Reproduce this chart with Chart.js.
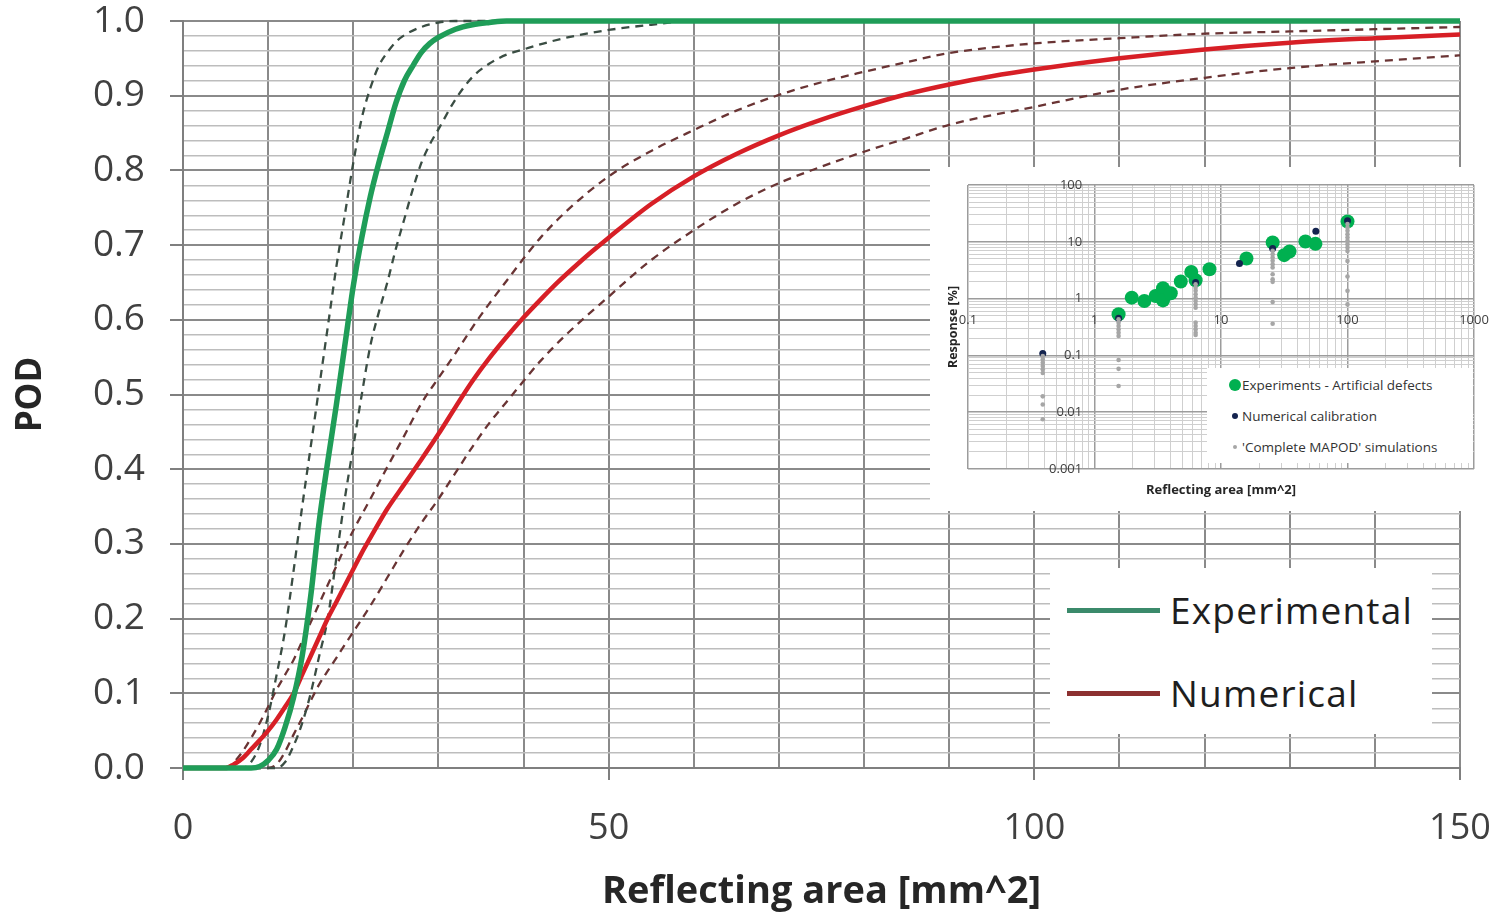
<!DOCTYPE html>
<html>
<head>
<meta charset="utf-8">
<script src="https://cdn.jsdelivr.net/npm/chart.js@4.4.1/dist/chart.umd.min.js"></script>
<style>
  html, body { margin: 0; padding: 0; background: #fff; }
  #wrap { position: relative; width: 1510px; height: 917px; overflow: hidden; }
  #main { position: absolute; left: 0; top: 0; }
  #inset { position: absolute; left: 930px; top: 167px; width: 580px; height: 344px; background: #fff; }
  #mainLegend { position: absolute; left: 1050px; top: 568px; width: 382px; height: 166px; background: #fff; }
  #mainLegend .swatch { position: absolute; left: 17px; width: 93px; height: 5px; }
  #mainLegend .label { position: absolute; left: 120px; font: 37px 'Open Sans'; letter-spacing: 1.2px; color: #1e1e1e; line-height: 40px; }
  #insetLegend { position: absolute; left: 277px; top: 201px; width: 266px; height: 95px; background: #fff; }
  #insetLegend .dot { position: absolute; border-radius: 50%; }
  #insetLegend .label { position: absolute; left: 35px; font: 13.5px 'Open Sans'; color: #333; line-height: 16px; }
</style>
</head>
<body>
<div id="wrap">
  <canvas id="main" width="1510" height="917"></canvas>
  <div id="mainLegend">
    <div class="swatch" style="top:40px;background:#3b8a6b"></div>
    <div class="label" style="top:22px">Experimental</div>
    <div class="swatch" style="top:123px;background:#8c3030"></div>
    <div class="label" style="top:105px">Numerical</div>
  </div>
  <div id="inset">
    <canvas id="insetChart" width="580" height="344"></canvas>
    <div id="insetLegend">
      <div class="dot" style="left:22px;top:11px;width:12px;height:12px;background:#00b050"></div>
      <div class="label" style="top:9px">Experiments - Artificial defects</div>
      <div class="dot" style="left:25px;top:45px;width:6px;height:6px;background:#14244f"></div>
      <div class="label" style="top:40px">Numerical calibration</div>
      <div class="dot" style="left:26px;top:77px;width:4px;height:4px;background:#a6a6a6"></div>
      <div class="label" style="top:71px">'Complete MAPOD' simulations</div>
    </div>
  </div>
</div>
<script>
// ---- main POD chart (x = reflecting area [mm^2]) ----
const expX = [0, 8, 9, 10, 11, 12, 13, 14, 15, 16, 17, 18, 19, 20, 21, 22, 23, 24, 25, 26, 27, 28, 29, 30, 32, 34, 36, 38, 150];
const expY = [0, 0, 0.002, 0.01, 0.025, 0.055, 0.095, 0.15, 0.23, 0.33, 0.41, 0.485, 0.565, 0.645, 0.71, 0.765, 0.81, 0.85, 0.89, 0.92, 0.94, 0.958, 0.97, 0.978, 0.989, 0.995, 0.998, 1, 1];

const expUpX = [0, 7, 8, 9, 10, 11, 12, 13, 14, 15, 16, 17, 18, 19, 20, 21, 22, 23, 24, 25, 26, 28, 30, 32, 150];
const expUpY = [0, 0, 0.008, 0.03, 0.07, 0.125, 0.185, 0.265, 0.35, 0.43, 0.51, 0.59, 0.67, 0.74, 0.81, 0.87, 0.91, 0.94, 0.958, 0.972, 0.981, 0.992, 0.998, 1, 1];

const expLoX = [0, 11, 12, 13, 14, 15, 16, 17, 18, 19, 20, 21, 22, 23, 24, 25, 26, 27, 28, 29, 30, 32, 34, 36, 38, 40, 43, 46, 50, 55, 60, 150];
const expLoY = [0, 0, 0.008, 0.03, 0.06, 0.1, 0.15, 0.2, 0.28, 0.36, 0.43, 0.5, 0.565, 0.61, 0.65, 0.695, 0.735, 0.775, 0.81, 0.835, 0.855, 0.895, 0.925, 0.943, 0.955, 0.962, 0.972, 0.98, 0.988, 0.995, 1, 1];

const numX = [0, 5, 6, 7, 8, 9, 10, 11, 12, 13, 14, 15, 16, 17, 18, 19, 20, 21, 22, 24, 26, 28, 30, 32, 34, 36, 38, 40, 42, 44, 46, 48, 50, 55, 60, 65, 70, 75, 80, 85, 90, 95, 100, 110, 120, 130, 140, 150];
const numY = [0, 0, 0.005, 0.013, 0.025, 0.037, 0.05, 0.065, 0.082, 0.1, 0.125, 0.15, 0.175, 0.2, 0.222, 0.244, 0.266, 0.288, 0.308, 0.347, 0.38, 0.413, 0.447, 0.483, 0.518, 0.549, 0.577, 0.603, 0.627, 0.65, 0.671, 0.691, 0.71, 0.755, 0.792, 0.822, 0.847, 0.868, 0.886, 0.902, 0.915, 0.926, 0.935, 0.95, 0.962, 0.971, 0.977, 0.982];

const numUpX = [0, 5, 6, 7, 8, 9, 10, 11, 12, 13, 14, 15, 16, 17, 18, 19, 20, 22, 24, 26, 28, 30, 32, 34, 36, 38, 40, 42, 45, 50, 55, 60, 65, 70, 75, 80, 85, 90, 100, 110, 120, 130, 140, 150];
const numUpY = [0, 0, 0.008, 0.022, 0.04, 0.06, 0.082, 0.105, 0.125, 0.145, 0.17, 0.195, 0.22, 0.245, 0.27, 0.295, 0.318, 0.36, 0.403, 0.445, 0.488, 0.522, 0.555, 0.59, 0.622, 0.652, 0.682, 0.71, 0.745, 0.792, 0.826, 0.854, 0.88, 0.901, 0.918, 0.932, 0.945, 0.957, 0.97, 0.977, 0.983, 0.986, 0.989, 0.992];

const numLoX = [0, 10, 11, 12, 13, 14, 15, 16, 17, 18, 19, 20, 22, 24, 26, 28, 30, 32, 34, 36, 38, 40, 42, 45, 50, 55, 60, 65, 70, 75, 80, 85, 90, 100, 110, 120, 130, 140, 150];
const numLoY = [0, 0, 0.005, 0.022, 0.045, 0.067, 0.09, 0.112, 0.13, 0.147, 0.165, 0.182, 0.217, 0.255, 0.293, 0.328, 0.36, 0.395, 0.43, 0.462, 0.49, 0.518, 0.545, 0.58, 0.631, 0.68, 0.72, 0.755, 0.783, 0.805, 0.825, 0.843, 0.861, 0.885, 0.908, 0.924, 0.937, 0.946, 0.954];

const xLabelled = [0, 50, 100, 150];

// ---- inset: response vs reflecting area (log-log) ----
const expArea = [1.55, 1.97, 2.48, 3.04, 3.48, 3.48, 4.01, 4.81, 5.82, 6.3, 8.11, 15.9, 25.6, 31.6, 34.8, 46.5, 55.8, 100];
const expResp = [0.53, 1.04, 0.91, 1.11, 1.52, 0.93, 1.24, 2.0, 2.95, 2.11, 3.29, 5.08, 9.73, 5.82, 6.75, 10.1, 9.2, 22.8];

const calArea = [0.39, 1.55, 6.3, 14.0, 25.6, 56.2, 100];
const calResp = [0.108, 0.45, 1.92, 4.15, 7.63, 15.4, 23.5];

const simArea = [0.39, 1.55, 6.3, 25.6, 100];
const simResp = [
  [0.097, 0.085, 0.074, 0.065, 0.057, 0.049, 0.019, 0.0137, 0.0075],
  [0.432, 0.377, 0.329, 0.287, 0.251, 0.219, 0.083, 0.058, 0.029],
  [1.79, 1.56, 1.37, 1.19, 1.04, 0.91, 0.79, 0.69, 0.377, 0.329, 0.287, 0.251, 0.228],
  [6.93, 6.05, 5.29, 4.62, 4.03, 3.52, 2.69, 2.19, 1.97, 0.87, 0.36],
  [20.5, 17.9, 15.6, 13.6, 11.9, 10.4, 9.1, 7.9, 6.9, 4.6, 2.45, 1.37, 0.79]
];

const insetXDecades = [0.1, 1, 10, 100, 1000];
const insetYDecades = [0.001, 0.01, 0.1, 1, 10, 100];

function zip(xs, ys) {
  return xs.map((x, i) => ({ x: x, y: ys[i] }));
}

function isMajorPod(v) {
  return Math.abs(v * 10 - Math.round(v * 10)) < 1e-6;
}

function logTicks(decades) {
  const out = [];
  decades.forEach((d, i) => {
    out.push({ value: d, major: true });
    if (i < decades.length - 1) {
      for (let k = 2; k <= 9; k++) out.push({ value: d * k, major: false });
    }
  });
  return out;
}

// the tick padding would otherwise push the plot area in from the edges
function noEdgePadding(s) {
  s.paddingTop = 0;
  s.paddingBottom = 0;
  s.paddingLeft = 0;
  s.paddingRight = 0;
}

Chart.defaults.font.family = "'Open Sans'";
Chart.defaults.animation = false;

const GREEN = '#1f9d58';
const RED = '#d71f26';
const GREEN_DASH = '#3a4d43';
const RED_DASH = '#6a3434';

function curve(label, xs, ys, color, width, dashed, order) {
  return {
    label: label,
    data: zip(xs, ys),
    borderColor: color,
    borderWidth: width,
    borderDash: dashed ? [8, 6] : [],
    pointRadius: 0,
    fill: false,
    cubicInterpolationMode: 'monotone',
    clip: 8,
    order: order
  };
}

new Chart(document.getElementById('main'), {
  type: 'line',
  data: {
    datasets: [
      curve('Experimental', expX, expY, GREEN, 5.5, false, 0),
      curve('Numerical', numX, numY, RED, 4.5, false, 1),
      curve('Experimental upper', expUpX, expUpY, GREEN_DASH, 2.3, true, 2),
      curve('Experimental lower', expLoX, expLoY, GREEN_DASH, 2.3, true, 2),
      curve('Numerical upper', numUpX, numUpY, RED_DASH, 2.3, true, 3),
      curve('Numerical lower', numLoX, numLoY, RED_DASH, 2.3, true, 3)
    ]
  },
  options: {
    responsive: false,
    events: [],
    layout: { padding: { top: 21, right: 50, bottom: 0, left: 0 } },
    plugins: { legend: { display: false }, tooltip: { enabled: false } },
    scales: {
      x: {
        type: 'linear',
        min: 0, max: 150,
        afterFit: s => { s.height = 149; noEdgePadding(s); },
        border: { color: '#7f7f7f', width: 2 },
        grid: {
          color: '#8a8a8a',
          lineWidth: 2,
          tickLength: 12,
          tickColor: c => (c.tick && xLabelled.includes(c.tick.value)) ? '#7f7f7f' : 'rgba(0,0,0,0)'
        },
        ticks: {
          stepSize: 10,
          autoSkip: false,
          maxRotation: 0,
          padding: 27,
          color: '#404040',
          font: { size: 36 },
          callback: v => xLabelled.includes(v) ? String(v) : ''
        },
        title: {
          display: true,
          text: 'Reflecting area [mm^2]',
          color: '#262626',
          font: { size: 38, weight: 'bold' },
          padding: { top: 0, bottom: 2 }
        }
      },
      y: {
        min: 0, max: 1,
        afterFit: s => { s.width = 183; noEdgePadding(s); },
        border: { color: '#7f7f7f', width: 2 },
        grid: {
          color: c => (c.tick && isMajorPod(c.tick.value)) ? '#8a8a8a' : '#bdbdbd',
          lineWidth: c => (c.tick && isMajorPod(c.tick.value)) ? 2 : 1.4,
          tickLength: 13,
          tickColor: c => (c.tick && isMajorPod(c.tick.value)) ? '#7f7f7f' : 'rgba(0,0,0,0)'
        },
        ticks: {
          stepSize: 0.02,
          autoSkip: false,
          padding: 25,
          color: '#404040',
          font: { size: 37 },
          callback: v => isMajorPod(v) ? v.toFixed(1) : ''
        },
        title: {
          display: true,
          text: 'POD',
          color: '#262626',
          font: { size: 35, weight: 'bold' },
          padding: { top: 10, bottom: 0 }
        }
      }
    }
  }
});

const simPoints = [];
simArea.forEach((a, i) => simResp[i].forEach(r => simPoints.push({ x: a, y: r })));

new Chart(document.getElementById('insetChart'), {
  type: 'scatter',
  data: {
    datasets: [
      { label: 'Experiments - Artificial defects', data: zip(expArea, expResp), backgroundColor: '#00b050', borderWidth: 0, pointRadius: 7, order: 3 },
      { label: 'Numerical calibration', data: zip(calArea, calResp), backgroundColor: '#14244f', borderWidth: 0, pointRadius: 3.5, order: 2 },
      { label: "'Complete MAPOD' simulations", data: simPoints, backgroundColor: '#a6a6a6', borderWidth: 0, pointRadius: 2.3, order: 1 }
    ]
  },
  options: {
    responsive: false,
    events: [],
    layout: { padding: { top: 18, right: 36, bottom: 0, left: 0 } },
    plugins: {
      legend: { display: false },
      tooltip: { enabled: false },
      title: {
        display: true,
        fullSize: false,
        position: 'bottom',
        text: 'Reflecting area [mm^2]',
        color: '#262626',
        font: { size: 13, weight: 'bold' },
        padding: { top: 13.2, bottom: 13.2 }
      },
      subtitle: {
        display: true,
        fullSize: false,
        position: 'left',
        text: 'Response [%]',
        color: '#262626',
        font: { size: 12.5, weight: 'bold' },
        padding: { top: 15.5, bottom: 7.5 }
      }
    },
    scales: {
      x: {
        type: 'logarithmic',
        min: 0.1, max: 1000,
        position: { y: 1 },
        afterBuildTicks: s => { s.ticks = logTicks(insetXDecades); },
        afterFit: noEdgePadding,
        border: { display: false },
        grid: {
          color: c => (c.tick && c.tick.major) ? '#9c9c9c' : '#cfcfcf',
          lineWidth: c => (c.tick && c.tick.major) ? 1.5 : 1,
          drawTicks: false
        },
        ticks: {
          autoSkip: false, maxRotation: 0, padding: 14,
          color: '#404040', font: { size: 13 },
          callback: (v, i, ticks) => ticks[i].major ? String(v) : ''
        }
      },
      y: {
        type: 'logarithmic',
        min: 0.001, max: 100,
        // labels sit just left of the x = 1 gridline, as in the source
        position: { x: 0.8 },
        afterBuildTicks: s => { s.ticks = logTicks(insetYDecades); },
        afterFit: noEdgePadding,
        border: { display: false },
        grid: {
          color: c => (c.tick && c.tick.major) ? '#9c9c9c' : '#cfcfcf',
          lineWidth: c => (c.tick && c.tick.major) ? 1.5 : 1,
          drawTicks: false
        },
        ticks: {
          autoSkip: false, padding: 0,
          color: '#404040', font: { size: 13 },
          callback: (v, i, ticks) => ticks[i].major ? String(v) : ''
        }
      }
    }
  }
});
</script>
</body>
</html>
